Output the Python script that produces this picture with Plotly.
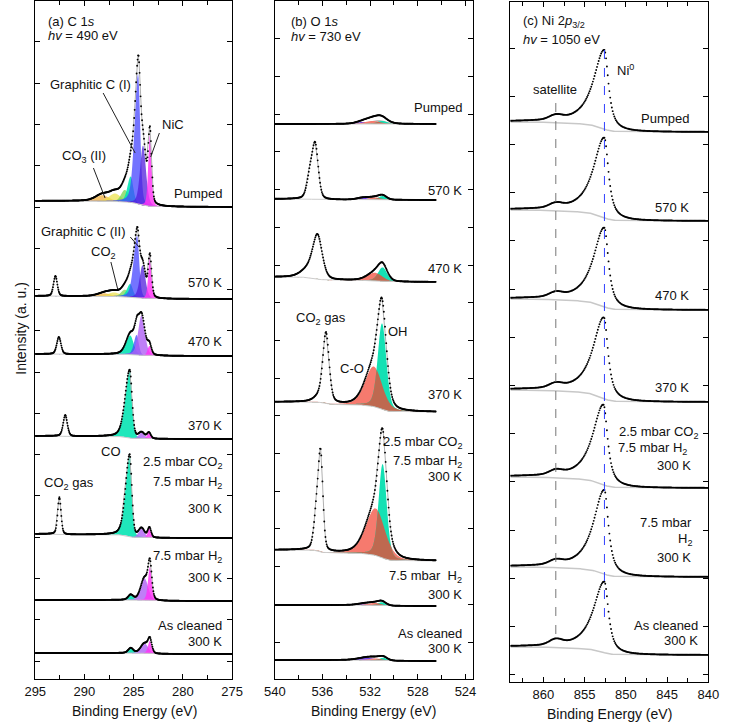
import numpy as np
import plotly.graph_objects as go

W, H = 729, 724

# ---------------- DATA ----------------
# Panel (a) C 1s : one entry per spectrum (top -> bottom)
C_offset = [472, 380, 323, 240, 141, 78, 25]
C_bgstep = [6, 3, 2, 3, 4, 1, 1]
C_kind = [
    ["orange", "yellow", "green", "cyan", "blue", "violet", "magenta"],
    ["gas", "orange", "yellow", "green", "cyan", "blue", "violet", "magenta"],
    ["gas", "cyan", "blue", "purple", "magenta"],
    ["gas", "cyan", "purple", "magenta"],
    ["gas", "cyan", "purple", "magenta"],
    ["cyan", "purple", "magenta"],
    ["cyan", "purple", "magenta"],
]
C_pos = [
    [288.2, 286.9, 285.9, 285.3, 284.55, 284.05, 283.35],
    [292.95, 288.0, 287.0, 285.9, 285.35, 284.65, 284.1, 283.35],
    [292.6, 285.35, 284.7, 284.2, 283.4],
    [291.95, 285.4, 284.2, 283.45],
    [292.55, 285.4, 284.2, 283.4],
    [285.3, 283.9, 283.35],
    [285.3, 283.9, 283.35],
]
C_fwhm = [
    [1.6, 1.4, 0.9, 0.6, 0.5, 0.7, 0.4],
    [0.45, 1.6, 1.4, 0.9, 0.6, 0.5, 0.7, 0.4],
    [0.5, 0.8, 0.5, 0.8, 0.45],
    [0.5, 0.55, 0.7, 0.45],
    [0.4, 0.5, 0.7, 0.4],
    [0.6, 0.9, 0.45],
    [0.6, 0.9, 0.45],
]
C_height = [
    [6, 8, 12, 26, 130, 60, 72],
    [20, 3, 4, 7, 13, 62, 33, 42],
    [17, 19, 20, 40, 10],
    [21, 68, 6, 6],
    [37, 82, 9, 10],
    [5, 22, 34],
    [5, 10, 13],
]
C_asym = [
    [0, 0, 0, 0.3, 0.7, 0, 0],
    [0, 0, 0, 0, 0.3, 0.7, 0, 0],
    [0, 0.3, 0.3, 0, 0],
    [0, 1.0, 0, 0],
    [0, 1.0, 0, 0],
    [0, 0, 0],
    [0, 0, 0],
]

# Panel (b) O 1s
O_offset = [555, 479, 397, 267, 118, 73, 18]
O_bgstep = [0, 1, 5, 10, 11, 1, 1]
O_kind = [
    ["violet", "grey", "salmon", "cyan"],
    ["gas", "gas", "violet", "salmon", "cyan"],
    ["gas", "gas", "salmon", "cyan"],
    ["gas", "gas", "salmon", "cyan"],
    ["gas", "gas", "salmon", "cyan"],
    ["violet", "salmon", "cyan"],
    ["violet", "salmon", "cyan"],
]
O_pos = [
    [532.6, 531.3, 531.8, 531.0],
    [536.6, 537.05, 532.6, 531.6, 530.95],
    [536.4, 537.0, 531.6, 530.95],
    [535.7, 536.0, 531.7, 531.0],
    [536.15, 536.5, 531.55, 530.95],
    [532.5, 531.6, 531.0],
    [532.3, 531.5, 530.9],
]
O_fwhm = [
    [1.4, 1.6, 1.5, 1.0],
    [0.6, 0.6, 1.2, 1.2, 0.8],
    [0.9, 1.6, 1.5, 0.9],
    [0.6, 1.2, 1.7, 0.85],
    [0.45, 0.5, 1.9, 0.8],
    [1.4, 1.3, 0.8],
    [1.8, 1.4, 0.8],
]
O_height = [
    [2, 4, 3, 3],
    [52, 22, 2, 2.5, 4],
    [38, 10, 8, 14],
    [64, 8, 40, 86],
    [92, 36, 47, 94],
    [1.5, 2.5, 3.5],
    [2.5, 2, 3],
]

# Panel (c) Ni 2p3/2
Ni_offset = [550, 461, 372, 280, 194, 105, 27]
Ni_bgstep = [10, 11, 11, 12, 11, 10, 8]
Ni_main_pos = [852.6, 852.6, 852.6, 852.65, 852.7, 852.6, 852.6]
Ni_main_height = [79, 80, 79, 81, 80, 84, 71]
Ni_sat_pos = [858.5, 858.5, 858.5, 858.5, 858.5, 858.5, 858.5]
Ni_sat_height = [4, 4, 4, 4, 4, 4, 5]

C_ticks = [295, 290, 285, 280, 275]
O_ticks = [540, 536, 532, 528, 524]
Ni_ticks = [860, 855, 850, 845, 840]

# ---------------- STYLE ----------------
FILL = {
    "orange": "rgba(240,170,50,0.7)",
    "yellow": "rgba(235,225,70,0.7)",
    "green": "rgba(120,215,80,0.75)",
    "cyan": "rgba(0,228,178,0.88)",
    "blue": "rgba(70,70,255,0.75)",
    "violet": "rgba(80,30,220,0.75)",
    "purple": "rgba(175,95,245,0.8)",
    "magenta": "rgba(255,50,245,0.82)",
}
OFILL = {
    "violet": "rgba(90,40,230,0.85)",
    "grey": "rgba(175,175,175,0.8)",
    "salmon": "rgb(246,122,110)",
    "cyan": "rgb(20,225,180)",
}
OVERLAP = "rgb(190,105,80)"


def peak(E, c, fw, h, asym, eta):
    hw = np.where(E >= c, fw / 2 * (1 + asym), fw / 2)
    x = (E - c) / hw
    return h * (eta * 1 / (1 + x ** 2) + (1 - eta) * np.exp(-np.log(2) * x ** 2))


def shirley(E, S, step):
    cum = np.cumsum(S)
    return step * cum / cum[-1]


fig = go.Figure()


def dots(E, y, xa, ya, envelope=True):
    if envelope:
        fig.add_trace(go.Scatter(x=E, y=y, mode="lines", line=dict(color="#b0b0b0", width=1),
                                 xaxis=xa, yaxis=ya, hoverinfo="skip"))
    fig.add_trace(go.Scatter(x=E, y=y, mode="markers",
                             marker=dict(color="black", size=1.9),
                             xaxis=xa, yaxis=ya, hoverinfo="skip"))


def poly(E, top, bot, color, xa, ya):
    fig.add_trace(go.Scatter(x=np.concatenate([E, E[::-1]]), y=np.concatenate([top, bot[::-1]]),
                             fill="toself", fillcolor=color, mode="none",
                             xaxis=xa, yaxis=ya, hoverinfo="skip"))


# ---- panel a ----
E = np.arange(275.0, 295.0001, 0.05)
for i in range(len(C_offset)):
    comps = [peak(E, c, w, h, a, 0.3) for c, w, h, a in zip(C_pos[i], C_fwhm[i], C_height[i], C_asym[i])]
    S = np.sum(comps, axis=0)
    bg = C_offset[i] + shirley(E, S, C_bgstep[i])
    for k, comp in zip(C_kind[i], comps):
        if k == "gas":
            continue
        poly(E, bg + comp, bg, FILL[k], "x", "y")
    fig.add_trace(go.Scatter(x=E, y=bg, mode="lines", line=dict(color="#cccccc", width=1),
                             xaxis="x", yaxis="y", hoverinfo="skip"))
    dots(E, bg + S, "x", "y")

# ---- panel b ----
E = np.arange(526.5, 540.0001, 0.05)
for i in range(len(O_offset)):
    comps = [peak(E, c, w, h, 0.0, 0.3) for c, w, h in zip(O_pos[i], O_fwhm[i], O_height[i])]
    S = np.sum(comps, axis=0)
    bg = O_offset[i] + shirley(E, S, O_bgstep[i])
    d = dict(zip(O_kind[i], comps))
    for k in ["violet", "grey", "salmon", "cyan"]:
        if k in d:
            poly(E, bg + d[k], bg, OFILL[k], "x2", "y2")
    if "salmon" in d and "cyan" in d:
        poly(E, bg + np.minimum(d["salmon"], d["cyan"]), bg, OVERLAP, "x2", "y2")
    fig.add_trace(go.Scatter(x=E, y=bg, mode="lines", line=dict(color="#cccccc", width=1),
                             xaxis="x2", yaxis="y2", hoverinfo="skip"))
    dots(E, bg + S, "x2", "y2")

# ---- panel c ----
E = np.arange(840.0, 864.0001, 0.1)
for i in range(len(Ni_offset)):
    main = peak(E, Ni_main_pos[i], 1.2, Ni_main_height[i], 1.6, 0.9)
    sat = peak(E, Ni_sat_pos[i], 1.8, Ni_sat_height[i], 0.0, 0.0)
    S = main + sat
    bg = Ni_offset[i] + shirley(E, S, Ni_bgstep[i])
    fig.add_trace(go.Scatter(x=E, y=bg, mode="lines", line=dict(color="#c8c8c8", width=1.5),
                             xaxis="x3", yaxis="y3", hoverinfo="skip"))
    dots(E, bg + S, "x3", "y3", envelope=False)

# dashed reference lines in panel c
fig.add_shape(type="line", xref="x3", yref="y3", x0=858.5, x1=858.5, y0=682 - 103, y1=682 - 643,
              line=dict(color="#777777", width=1, dash="dash"))
fig.add_shape(type="line", xref="x3", yref="y3", x0=852.6, x1=852.6, y0=682 - 50, y1=682 - 620,
              line=dict(color="#3040ff", width=1, dash="dash"))

# ---------------- AXES ----------------
FONT = "Liberation Sans, Arial, sans-serif"


def xaxis(dom, rng, ticks, minor, anchor):
    return dict(domain=[dom[0] / W, dom[1] / W], range=rng, autorange=False, anchor=anchor,
                tickmode="array", tickvals=ticks, ticktext=[str(t) for t in ticks],
                ticks="inside", ticklen=5, tickcolor="black", showline=True, linecolor="black",
                linewidth=1, mirror="ticks", showgrid=False, zeroline=False,
                tickfont=dict(family=FONT, size=13, color="#111"),
                minor=dict(dtick=minor, tick0=ticks[-1], ticks="inside", ticklen=4, tickcolor="black",
                           showgrid=False))


def yaxis(top_px, bot_px, dtick, tick0, anchor):
    return dict(domain=[1 - bot_px / H, 1 - top_px / H], range=[0, bot_px - top_px], autorange=False,
                anchor=anchor, showticklabels=False, ticks="inside", ticklen=5, tickcolor="black",
                dtick=dtick, tick0=tick0, showline=True, linecolor="black", linewidth=1,
                mirror="ticks", showgrid=False, zeroline=False)


fig.update_layout(
    width=W, height=H, margin=dict(l=0, r=0, t=0, b=0), showlegend=False,
    plot_bgcolor="white", paper_bgcolor="white",
    xaxis=xaxis((25, 228), [295, 275], C_ticks, 2.5, "y"),
    yaxis=yaxis(1, 679, 41.27, 18, "x"),
    xaxis2=xaxis((272, 476), [540, 523.4], O_ticks, 2, "y2"),
    yaxis2=yaxis(1, 679, 37.7, 37, "x2"),
    xaxis3=xaxis((515, 719), [864, 840], Ni_ticks, 2.5, "y3"),
    yaxis3=yaxis(2, 682, 48.2, 7.4, "x3"),
)

# ---------------- TEXT ----------------
labels = [
    ("(a) C 1<i>s</i>", 37, 21, "left"), ("<i>hv</i> = 490 eV", 37, 36, "left"),
    ("Graphitic C (I)", 82, 84, "center"), ("NiC", 167, 125, "center"),
    ("CO<sub>3</sub> (II)", 75, 156, "center"), ("Pumped", 219, 193, "right"),
    ("Graphitic C (II)", 75, 231, "center"), ("CO<sub>2</sub>", 95, 252, "center"),
    ("570 K", 219, 282, "right"), ("470 K", 219, 342, "right"), ("370 K", 219, 425, "right"),
    ("CO", 103, 451, "center"), ("2.5 mbar CO<sub>2</sub>", 219, 462, "right"),
    ("7.5 mbar H<sub>2</sub>", 219, 482, "right"), ("300 K", 219, 508, "right"),
    ("CO<sub>2</sub> gas", 60, 483, "center"), ("7.5 mbar H<sub>2</sub>", 219, 556, "right"),
    ("300 K", 219, 577, "right"), ("As cleaned", 219, 625, "right"), ("300 K", 219, 641, "right"),
    ("(b) O 1<i>s</i>", 288, 22, "left"), ("<i>hv</i> = 730 eV", 288, 37, "left"),
    ("Pumped", 466, 108, "right"), ("570 K", 466, 190, "right"), ("470 K", 466, 268, "right"),
    ("CO<sub>2</sub> gas", 320, 318, "center"), ("OH", 399, 331, "center"),
    ("C-O", 352, 368, "center"), ("370 K", 466, 394, "right"),
    ("2.5 mbar CO<sub>2</sub>", 466, 442, "right"), ("7.5 mbar H<sub>2</sub>", 466, 461, "right"),
    ("300 K", 466, 477, "right"), ("7.5 mbar  H<sub>2</sub>", 466, 576, "right"),
    ("300 K", 466, 594, "right"), ("As cleaned", 466, 633, "right"), ("300 K", 466, 648, "right"),
    ("(c) Ni 2<i>p</i><sub>3/2</sub>", 527, 22, "left"), ("<i>hv</i> = 1050 eV", 527, 39, "left"),
    ("satellite", 561, 89, "center"), ("Ni<sup>0</sup>", 634, 70, "center"),
    ("Pumped", 700, 119, "right"), ("570 K", 700, 207, "right"), ("470 K", 700, 295, "right"),
    ("370 K", 700, 387, "right"), ("2.5 mbar CO<sub>2</sub>", 709, 432, "right"),
    ("7.5 mbar H<sub>2</sub>", 698, 448, "right"), ("300 K", 702, 465, "right"),
    ("7.5 mbar", 703, 522, "right"), ("H<sub>2</sub>", 703, 539, "right"), ("300 K", 702, 557, "right"),
    ("As cleaned", 709, 625, "right"), ("300 K", 709, 640, "right"),
    ("Binding Energy (eV)", 127, 711, "center"), ("Binding Energy (eV)", 374, 711, "center"),
    ("Binding Energy (eV)", 617, 714, "center"),
]
for txt, x, y, anc in labels:
    big = txt.startswith("Binding")
    fig.add_annotation(text=txt, x=x / W, y=1 - y / H, xref="paper", yref="paper", showarrow=False,
                       xanchor=anc, yanchor="middle", borderpad=0,
                       font=dict(family=FONT, size=14 if big else 13, color="#111"))
fig.add_annotation(text="Intensity (a. u.)", x=10 / W, y=1 - 328 / H, xref="paper", yref="paper",
                   showarrow=False, textangle=-90, xanchor="center", yanchor="middle",
                   font=dict(family=FONT, size=14, color="#111"))

leaders = [((95, 93), (128, 153)), ((153, 133), (144, 157)), ((85, 168), (97, 198)),
           ((123, 237), (132, 247)), ((103, 262), (110, 289))]
for (x0, y0), (x1, y1) in leaders:
    fig.add_shape(type="line", xref="paper", yref="paper", x0=x0 / W, y0=1 - y0 / H,
                  x1=x1 / W, y1=1 - y1 / H, line=dict(color="#222", width=1))

fig.write_html("out.html")
